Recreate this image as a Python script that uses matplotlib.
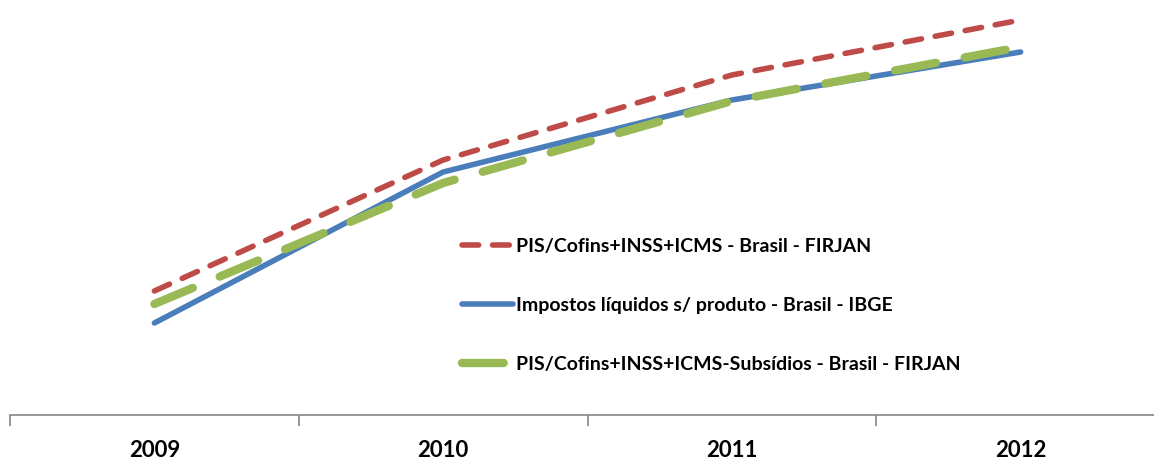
import matplotlib.pyplot as plt

anos = ['2009', '2010', '2011', '2012']
firjan = [124, 255, 340, 395]
ibge = [92, 243, 315, 363]
firjan_sub = [111, 232, 314, 368]

plt.rcParams['font.family'] = ['Lato', 'DejaVu Sans']

fig = plt.figure(figsize=(11.54, 4.61), dpi=100)
ax = fig.add_axes([10 / 1154, 46 / 461, 1155 / 1154, 415 / 461])

x = range(len(anos))
ax.plot(x, ibge, color='#4a7ebb', lw=4, solid_capstyle='round', zorder=2,
        label='Impostos líquidos s/ produto - Brasil - IBGE')
ax.plot(x, firjan_sub, color='#98b954', lw=6, dashes=(5, 3.5),
        dash_capstyle='round', zorder=3,
        label='PIS/Cofins+INSS+ICMS-Subsídios - Brasil - FIRJAN')
ax.plot(x, firjan, color='#be4b48', lw=4, dashes=(3, 2.5),
        dash_capstyle='round', zorder=4,
        label='PIS/Cofins+INSS+ICMS - Brasil - FIRJAN')

ax.set_xlim(-0.5, 3.5)
ax.set_ylim(0, 415)

for s in ['left', 'right', 'top']:
    ax.spines[s].set_visible(False)
ax.spines['bottom'].set_color('#868686')
ax.spines['bottom'].set_linewidth(1.2)
ax.set_yticks([])
ax.set_xticks(list(x))
ax.set_xticklabels(anos, fontsize=16, fontweight='bold')
ax.tick_params(axis='x', which='major', length=0, pad=18)
ax.set_xticks([-0.5, 0.5, 1.5, 2.5, 3.5], minor=True)
ax.tick_params(axis='x', which='minor', length=8, color='#868686', width=1.2)

# legenda dentro do gráfico
handles, labels = ax.get_legend_handles_labels()
order = [2, 0, 1]
leg = fig.legend([handles[i] for i in order], [labels[i] for i in order],
                 loc='upper left', bbox_to_anchor=(462 / 1154, 1 - 238 / 461),
                 frameon=False, borderpad=0, borderaxespad=0,
                 prop={'weight': 'bold', 'size': 14}, handlelength=2.6,
                 handletextpad=0.2, labelspacing=2.15)

fig.savefig('out.png', dpi=100)
